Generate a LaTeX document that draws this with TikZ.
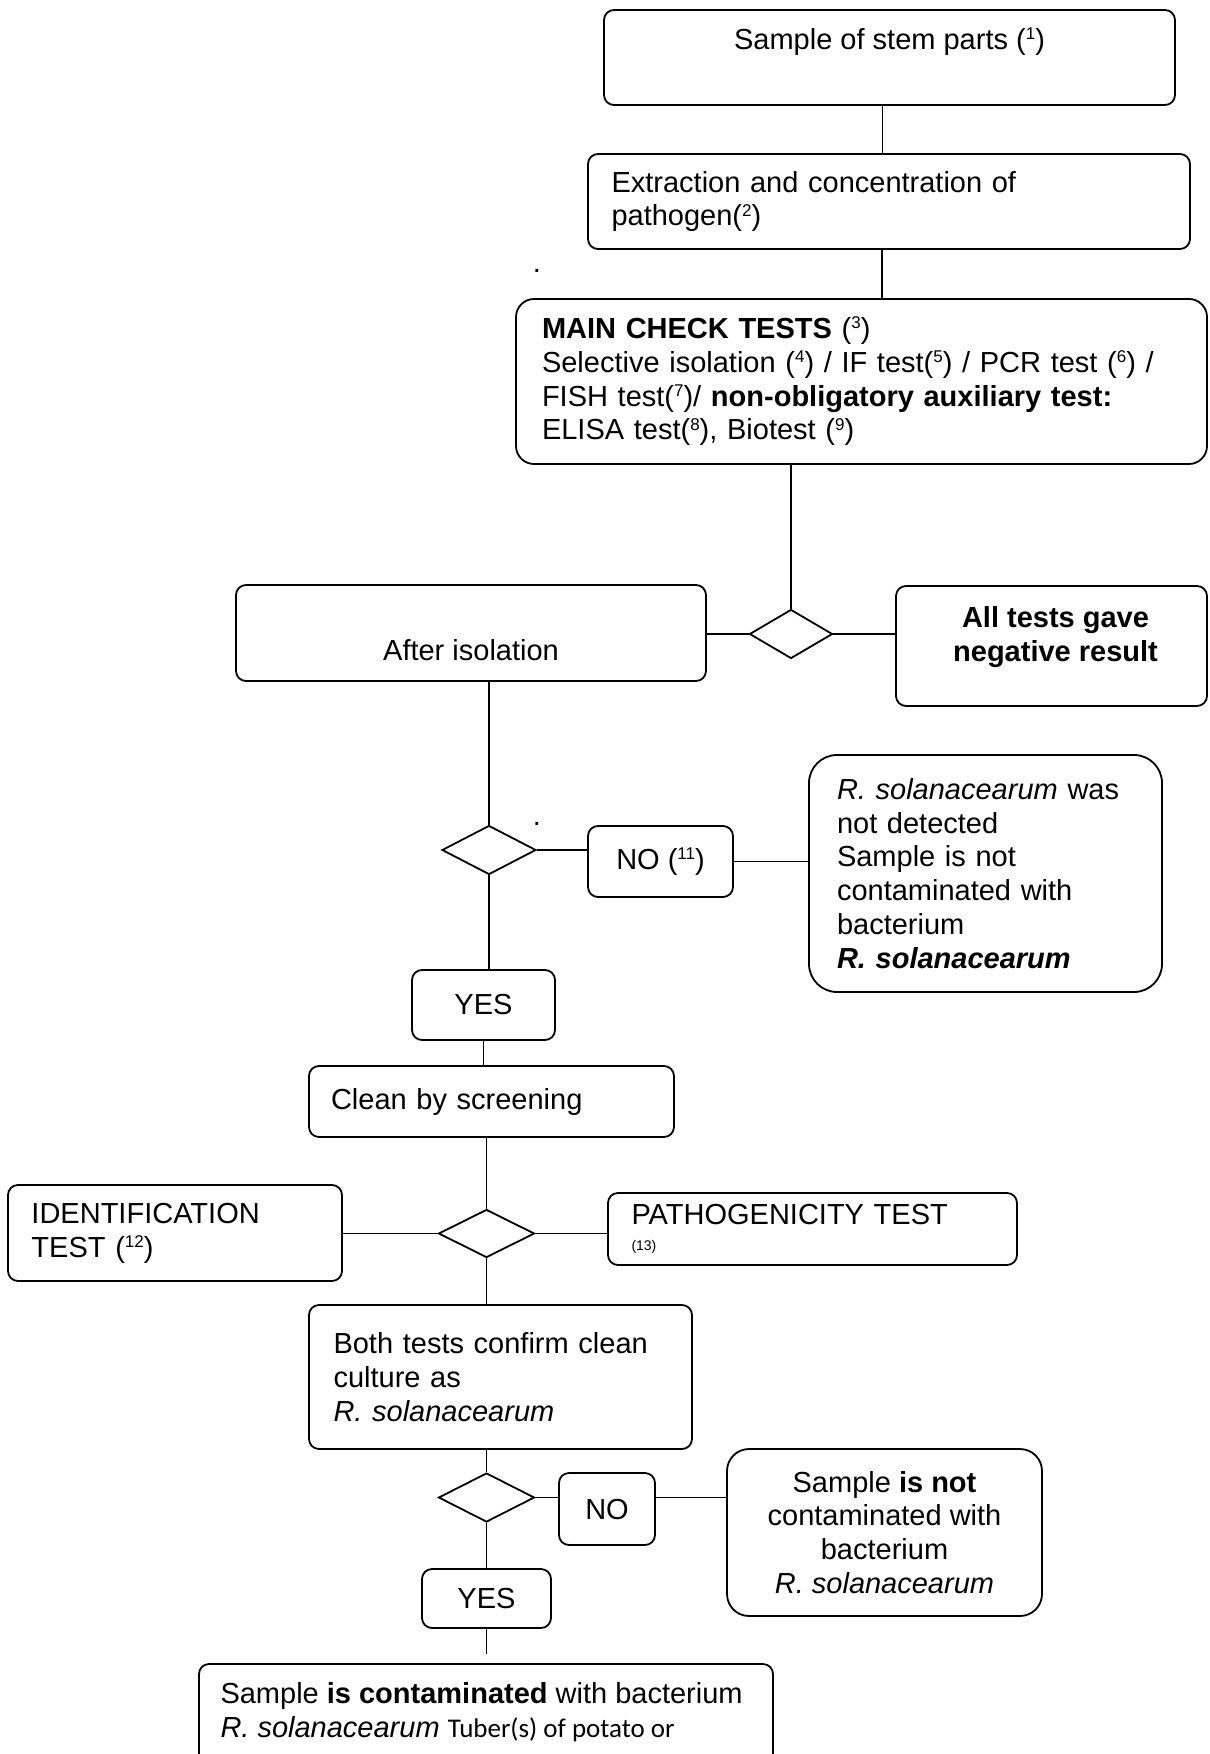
\documentclass[tikz,border=0pt]{standalone}
\usepackage{fontspec}
\setmainfont{Liberation Sans}
\newfontfamily\tuberfont{Carlito}
\usetikzlibrary{shapes.geometric, positioning}
\newcommand{\fnref}[1]{\raisebox{4.8pt}{\fontsize{8.5}{8.5}\selectfont #1}}

\begin{document}
\begin{tikzpicture}[
    x=0.5pt, y=-0.5pt,
    every node/.style={font=\fontsize{14.5}{16.9}\selectfont, inner sep=0pt},
    flowbox/.style={rectangle, draw, line width=0.9pt, rounded corners=5pt, align=center},
    leftbox/.style={flowbox, align=left},
    decision/.style={diamond, draw, line width=0.9pt},
    link/.style={line width=0.9pt}
]
\useasboundingbox (0,0) rectangle (1209,1754);
\clip (0,0) rectangle (1209,1754);

% Top of the scheme
\node[flowbox, minimum width=285.5pt, minimum height=47.5pt,
    label={[yshift=8pt]center:{Sample of stem parts (\fnref{1})}}] (sample) at (889.5,57.5) {};
\node[leftbox, minimum width=301pt, minimum height=47.5pt, text width=277.5pt] (extract) at (889,201.5)
    {Extraction and concentration of\\pathogen(\fnref{2})};
\node[leftbox, rounded corners=9pt, minimum width=345.5pt, minimum height=82.5pt, text width=319.5pt] (main) at (861.5,381.5)
    {\textbf{MAIN CHECK TESTS} (\fnref{3})\\
     Selective isolation (\fnref{4}) / IF test(\fnref{5}) / PCR test (\fnref{6}) /\\
     FISH test(\fnref{7})/ \textbf{non-obligatory auxiliary test:}\\
     ELISA test(\fnref{8}), Biotest (\fnref{9})};
\node (dotA) at (537,271) {.};

% First decision
\node[decision, minimum width=41.5pt, minimum height=24.5pt] (check) at (791,634) {};
\node[flowbox, minimum width=235pt, minimum height=48pt,
    label={[yshift=-8.4pt]center:After isolation}] (after) at (471,633) {};
\node[flowbox, minimum width=155.5pt, minimum height=60pt,
    label={[yshift=4.3pt, xshift=2pt, align=center]center:{\textbf{All tests gave}\\\textbf{negative result}}}] (negative) at (1051.5,646) {};

% After isolation
\node[decision, minimum width=47pt, minimum height=24.5pt] (isolated) at (489,850) {};
\node (dotB) at (537,824) {.};
\node[flowbox, minimum width=72.5pt, minimum height=35.5pt] (no11) at (660.5,861.5) {NO (\fnref{11})};
\node[leftbox, rounded corners=14pt, minimum width=176.5pt, minimum height=118.5pt, text width=148.5pt] (notdetected) at (985.5,873.5)
    {\textit{R. solanacearum} was\\not detected\\Sample is not\\contaminated with\\bacterium\\\textbf{\textit{R. solanacearum}}};
\node[flowbox, minimum width=71.5pt, minimum height=35pt] (yes1) at (483.5,1005) {YES};
\node[leftbox, minimum width=182.5pt, minimum height=35.5pt, text width=160.5pt] (clean) at (491.5,1101.5) {Clean by screening};

% Identification and pathogenicity
\node[decision, minimum width=48pt, minimum height=24pt] (cultured) at (486.5,1233.5) {};
\node[leftbox, minimum width=167pt, minimum height=48pt, text width=143.5pt] (ident) at (175,1233)
    {IDENTIFICATION\\TEST (\fnref{12})};
\node[leftbox, minimum width=204.5pt, minimum height=36pt, text width=181pt] (patho) at (812.5,1229)
    {PATHOGENICITY TEST\\[-4pt]{\fontsize{7}{7}\selectfont (13)}};
\node[leftbox, minimum width=191.5pt, minimum height=72pt, text width=167pt] (confirm) at (500.5,1377)
    {Both tests confirm clean\\culture as\\\textit{R. solanacearum}};

% Final decision
\node[decision, minimum width=48pt, minimum height=24.5pt] (confirmed) at (486.5,1497.5) {};
\node[flowbox, minimum width=48pt, minimum height=36pt] (no) at (607,1509) {NO};
\node[flowbox, rounded corners=11pt, minimum width=157.5pt, minimum height=83.5pt] (notcontaminated) at (884.5,1532.5)
    {Sample \textbf{is not}\\contaminated with\\bacterium\\\textit{R. solanacearum}};
\node[flowbox, minimum width=64.5pt, minimum height=29.5pt] (yes2) at (486.5,1598.5) {YES};
\coordinate (gap) at (486.5,1654);
\node[flowbox, minimum width=287pt, minimum height=68pt] (contaminated) at (486,1732) {};
\node[align=left, below right=9.5pt and 11pt of contaminated.north west] (contaminatedtext)
    {Sample \textbf{is contaminated} with bacterium\\
     \textit{R. solanacearum} {\tuberfont\fontsize{13.5}{16.9}\selectfont Tuber(s) of potato or}};

% Connectors
\draw[link] ([xshift=-3.5pt]sample.south) -- ([xshift=-3.5pt]sample.south |- extract.north);
\draw[link] ([xshift=-3.5pt]extract.south) -- ([xshift=-3.5pt]extract.south |- main.north);
\draw[link] (check.north |- main.south) -- (check.north);
\draw[link] (check.west -| after.east) -- (check.west);
\draw[link] (check.east) -- (check.east -| negative.west);
\draw[link] (isolated.north |- after.south) -- (isolated.north);
\draw[link] (isolated.east) -- (isolated.east -| no11.west);
\draw[link] (no11.east) -- (no11.east -| notdetected.west);
\draw[link] (isolated.south) -- (isolated.south |- yes1.north);
\draw[link] (yes1.south) -- (yes1.south |- clean.north);
\draw[link] (cultured.north |- clean.south) -- (cultured.north);
\draw[link] (cultured.west) -- (cultured.west -| ident.east);
\draw[link] (cultured.east) -- (cultured.east -| patho.west);
\draw[link] (cultured.south) -- (cultured.south |- confirm.north);
\draw[link] (confirmed.north |- confirm.south) -- (confirmed.north);
\draw[link] (confirmed.east) -- (confirmed.east -| no.west);
\draw[link] (confirmed.east -| no.east) -- (confirmed.east -| notcontaminated.west);
\draw[link] (confirmed.south) -- (yes2.north);
\draw[link] (yes2.south) -- (gap);

\end{tikzpicture}
\end{document}
